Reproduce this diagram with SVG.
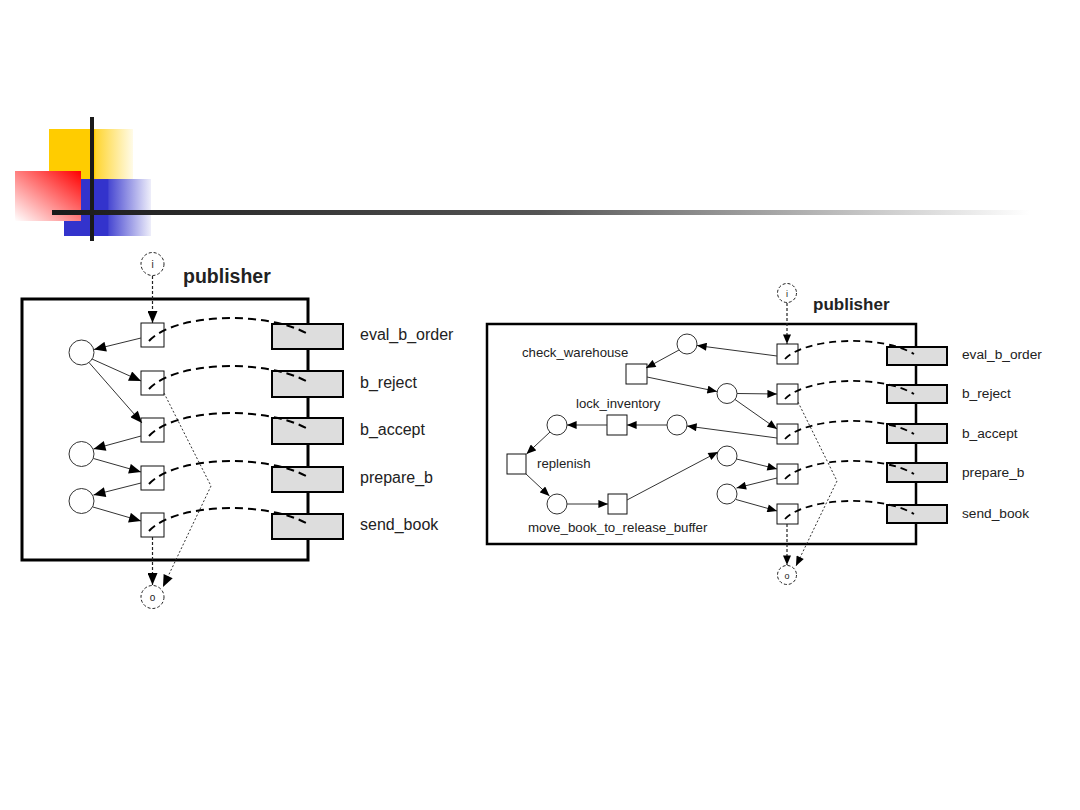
<svg xmlns="http://www.w3.org/2000/svg" width="1080" height="810" viewBox="0 0 1080 810">
<style>
.t{font-family:"Liberation Sans",Arial,sans-serif;fill:#222}
.pl{fill:#fff;stroke:#333;stroke-width:1}
.tr{fill:#fff;stroke:#111;stroke-width:1}
.io{fill:#fff;stroke:#222;stroke-width:1;stroke-dasharray:3 2}
.gb{fill:#dddddd;stroke:#000;stroke-width:2}
.arc{fill:none;stroke:#333;stroke-width:1}
.dsh{fill:none;stroke:#000;stroke-width:2;stroke-dasharray:8 5}
.dshr{fill:none;stroke:#000;stroke-width:1.8;stroke-dasharray:7 5}
.dio{fill:none;stroke:#222;stroke-width:1.2;stroke-dasharray:3 2}
.dot{fill:none;stroke:#333;stroke-width:1;stroke-dasharray:2 2}
</style>
<defs>
<marker id="aL" viewBox="0 0 12 10" refX="12" refY="5" markerWidth="13" markerHeight="10" markerUnits="userSpaceOnUse" orient="auto"><path d="M0,0 L12,5 L0,10 z" fill="#000"/></marker>
<marker id="aR" viewBox="0 0 12 10" refX="12" refY="5" markerWidth="11" markerHeight="8" markerUnits="userSpaceOnUse" orient="auto"><path d="M0,0 L12,5 L0,10 z" fill="#000"/></marker>
<linearGradient id="gY" x1="0" y1="0" x2="1" y2="0"><stop offset="0" stop-color="#ffcc00"/><stop offset="0.54" stop-color="#ffcc00"/><stop offset="0.56" stop-color="#ffd633"/><stop offset="1" stop-color="#fffbe8"/></linearGradient>
<linearGradient id="gB" x1="0" y1="0" x2="1" y2="0"><stop offset="0" stop-color="#3333cc"/><stop offset="0.5" stop-color="#3333cc"/><stop offset="0.52" stop-color="#4a4ad2"/><stop offset="1" stop-color="#eeeefa"/></linearGradient>
<linearGradient id="gRd" x1="1" y1="0" x2="0" y2="1"><stop offset="0" stop-color="#ff0000"/><stop offset="1" stop-color="#ffffff"/></linearGradient>
<linearGradient id="gL" x1="0" y1="0" x2="1" y2="0"><stop offset="0" stop-color="#1a1a1a"/><stop offset="0.5" stop-color="#555"/><stop offset="1" stop-color="#ffffff"/></linearGradient>
</defs>
<rect width="1080" height="810" fill="#fff"/>
<g id="decoration">
<rect x="49" y="129" width="84" height="50" fill="url(#gY)"/>
<rect x="64" y="179" width="87" height="57" fill="url(#gB)"/>
<rect x="15" y="171" width="66" height="50" fill="url(#gRd)"/>
<rect x="90" y="117" width="4" height="124" fill="#1a1a1a"/>
<rect x="52" y="210" width="978" height="5" fill="url(#gL)"/>
</g>
<g id="left-diagram">
<rect id="L-publisher-box" x="22" y="299" width="286" height="261" fill="none" stroke="#000" stroke-width="3"/>
<text class="t" x="183" y="283" font-size="19.5" font-weight="bold" fill="#000">publisher</text>
<g id="L-i"><circle class="io" cx="152.5" cy="264" r="11.5"/><text class="t" x="152.5" y="268" font-size="10" text-anchor="middle">i</text></g>
<g id="L-o"><circle class="io" cx="152.5" cy="597" r="11.5"/><text class="t" x="152.5" y="601" font-size="10" text-anchor="middle">o</text></g>
<g id="L-p1"><circle class="pl" cx="81.5" cy="352.5" r="12.5"/></g>
<g id="L-p2"><circle class="pl" cx="81.5" cy="454" r="12.5"/></g>
<g id="L-p3"><circle class="pl" cx="81.5" cy="501" r="12.5"/></g>
<g id="L-t1"><rect class="tr" x="141" y="323" width="23" height="24"/></g>
<g id="L-t2"><rect class="tr" x="141" y="371" width="23" height="24"/></g>
<g id="L-t3"><rect class="tr" x="141" y="418" width="23" height="24"/></g>
<g id="L-t4"><rect class="tr" x="141" y="466" width="23" height="24"/></g>
<g id="L-t5"><rect class="tr" x="141" y="513" width="23" height="24"/></g>
<g id="L-eval_b_order"><rect class="gb" x="272" y="324" width="71" height="25"/><text class="t" x="360" y="340" font-size="16">eval_b_order</text></g>
<g id="L-b_reject"><rect class="gb" x="272" y="371" width="71" height="26"/><text class="t" x="360" y="388" font-size="16">b_reject</text></g>
<g id="L-b_accept"><rect class="gb" x="272" y="418" width="71" height="26"/><text class="t" x="360" y="435" font-size="16">b_accept</text></g>
<g id="L-prepare_b"><rect class="gb" x="272" y="467" width="71" height="25"/><text class="t" x="360" y="483" font-size="16">prepare_b</text></g>
<g id="L-send_book"><rect class="gb" x="272" y="514" width="71" height="25"/><text class="t" x="360" y="530" font-size="16">send_book</text></g>
</g>
<g id="left-connectors">
<path class="dio" d="M152.5,276 L152.5,323" marker-end="url(#aL)"/>
<path class="dio" d="M152.5,537 L152.5,585" marker-end="url(#aL)"/>
<path class="dot" d="M164,393 L211,486 L163,587" marker-end="url(#aL)"/>
<path class="arc" d="M141,338 L94,349.5" marker-end="url(#aL)"/>
<path class="arc" d="M92,359 L141,381" marker-end="url(#aL)"/>
<path class="arc" d="M89,362.5 L142,423" marker-end="url(#aL)"/>
<path class="arc" d="M141,436 L93.5,449" marker-end="url(#aL)"/>
<path class="arc" d="M93.5,458.5 L141,472" marker-end="url(#aL)"/>
<path class="arc" d="M141,483 L93.5,495" marker-end="url(#aL)"/>
<path class="arc" d="M93,507 L141,521" marker-end="url(#aL)"/>
<path class="dsh" d="M149,341 C175,313 265,311 306,333"/>
<path class="dsh" d="M149,389 C175,361 265,359 306,381"/>
<path class="dsh" d="M149,436 C175,408 265,406 306,428"/>
<path class="dsh" d="M149,484 C175,456 265,454 306,476"/>
<path class="dsh" d="M149,531 C175,503 265,501 306,523"/>
</g>
<g id="right-diagram">
<rect id="R-publisher-box" x="487" y="324" width="429" height="220" fill="none" stroke="#000" stroke-width="2.5"/>
<text class="t" x="813" y="310" font-size="17" font-weight="bold" fill="#000">publisher</text>
<g id="R-i"><circle class="io" cx="787" cy="293" r="9.5"/><text class="t" x="787" y="297" font-size="9" text-anchor="middle">i</text></g>
<g id="R-o"><circle class="io" cx="787" cy="575" r="9.5"/><text class="t" x="787" y="579" font-size="9" text-anchor="middle">o</text></g>
<g id="R-p1"><circle class="pl" cx="687" cy="344" r="10"/></g>
<g id="R-p2"><circle class="pl" cx="727" cy="393.5" r="10"/></g>
<g id="R-p3"><circle class="pl" cx="677" cy="425" r="10"/></g>
<g id="R-p4"><circle class="pl" cx="727" cy="456" r="10"/></g>
<g id="R-p5"><circle class="pl" cx="727" cy="494" r="10"/></g>
<g id="R-p6"><circle class="pl" cx="557" cy="425" r="10"/></g>
<g id="R-p7"><circle class="pl" cx="557" cy="504" r="10"/></g>
<g id="R-t1"><rect class="tr" x="777" y="344" width="21" height="20"/></g>
<g id="R-t2"><rect class="tr" x="777" y="384" width="21" height="20"/></g>
<g id="R-t3"><rect class="tr" x="777" y="424" width="21" height="20"/></g>
<g id="R-t4"><rect class="tr" x="777" y="464" width="21" height="20"/></g>
<g id="R-t5"><rect class="tr" x="777" y="504" width="21" height="20"/></g>
<g id="R-check_warehouse"><rect class="tr" x="626" y="364" width="21" height="20"/><text class="t" x="522" y="357" font-size="13.2">check_warehouse</text></g>
<g id="R-lock_inventory"><rect class="tr" x="607" y="415" width="20" height="20"/><text class="t" x="576" y="408" font-size="13.2">lock_inventory</text></g>
<g id="R-replenish"><rect class="tr" x="507" y="454" width="19" height="20"/><text class="t" x="537" y="468" font-size="13.2">replenish</text></g>
<g id="R-move_book_to_release_buffer"><rect class="tr" x="608" y="494" width="19" height="20"/><text class="t" x="528" y="532" font-size="13.3">move_book_to_release_buffer</text></g>
<g id="R-eval_b_order"><rect class="gb" x="887" y="347" width="60" height="18" stroke-width="1.8"/><text class="t" x="962" y="359" font-size="13.7">eval_b_order</text></g>
<g id="R-b_reject"><rect class="gb" x="887" y="385" width="60" height="18" stroke-width="1.8"/><text class="t" x="962" y="398" font-size="13.7">b_reject</text></g>
<g id="R-b_accept"><rect class="gb" x="887" y="424" width="60" height="19" stroke-width="1.8"/><text class="t" x="962" y="438" font-size="13.7">b_accept</text></g>
<g id="R-prepare_b"><rect class="gb" x="887" y="463" width="60" height="19" stroke-width="1.8"/><text class="t" x="962" y="477" font-size="13.7">prepare_b</text></g>
<g id="R-send_book"><rect class="gb" x="887" y="505" width="60" height="18" stroke-width="1.8"/><text class="t" x="962" y="518" font-size="13.7">send_book</text></g>
</g>
<g id="right-connectors">
<path class="dio" d="M787,303 L787,344" marker-end="url(#aR)"/>
<path class="dio" d="M787,524 L787,565" marker-end="url(#aR)"/>
<path class="dot" d="M798,402 L837,481 L796,566" marker-end="url(#aR)"/>
<path class="arc" d="M777,356 L697,345.5" marker-end="url(#aR)"/>
<path class="arc" d="M679,350 L646,368" marker-end="url(#aR)"/>
<path class="arc" d="M647,377 L717,391.5" marker-end="url(#aR)"/>
<path class="arc" d="M737,393.5 L777,394" marker-end="url(#aR)"/>
<path class="arc" d="M735,399.5 L777,429" marker-end="url(#aR)"/>
<path class="arc" d="M777,438 L687,426" marker-end="url(#aR)"/>
<path class="arc" d="M667,425 L627,425" marker-end="url(#aR)"/>
<path class="arc" d="M607,425 L567,425" marker-end="url(#aR)"/>
<path class="arc" d="M550,432 L526.5,454" marker-end="url(#aR)"/>
<path class="arc" d="M526,474 L549.5,496" marker-end="url(#aR)"/>
<path class="arc" d="M567,504 L608,504" marker-end="url(#aR)"/>
<path class="arc" d="M627,500 L718,452" marker-end="url(#aR)"/>
<path class="arc" d="M736.5,459 L777,469" marker-end="url(#aR)"/>
<path class="arc" d="M777,478 L736.5,488" marker-end="url(#aR)"/>
<path class="arc" d="M736,499.5 L777,511" marker-end="url(#aR)"/>
<path class="dshr" d="M785,359 C805,338 880,334 914,354"/>
<path class="dshr" d="M785,399 C805,378 880,374 914,394"/>
<path class="dshr" d="M785,439 C805,418 880,414 914,434"/>
<path class="dshr" d="M785,479 C805,458 880,454 914,474"/>
<path class="dshr" d="M785,519 C805,498 880,494 914,514"/>
</g>
</svg>
